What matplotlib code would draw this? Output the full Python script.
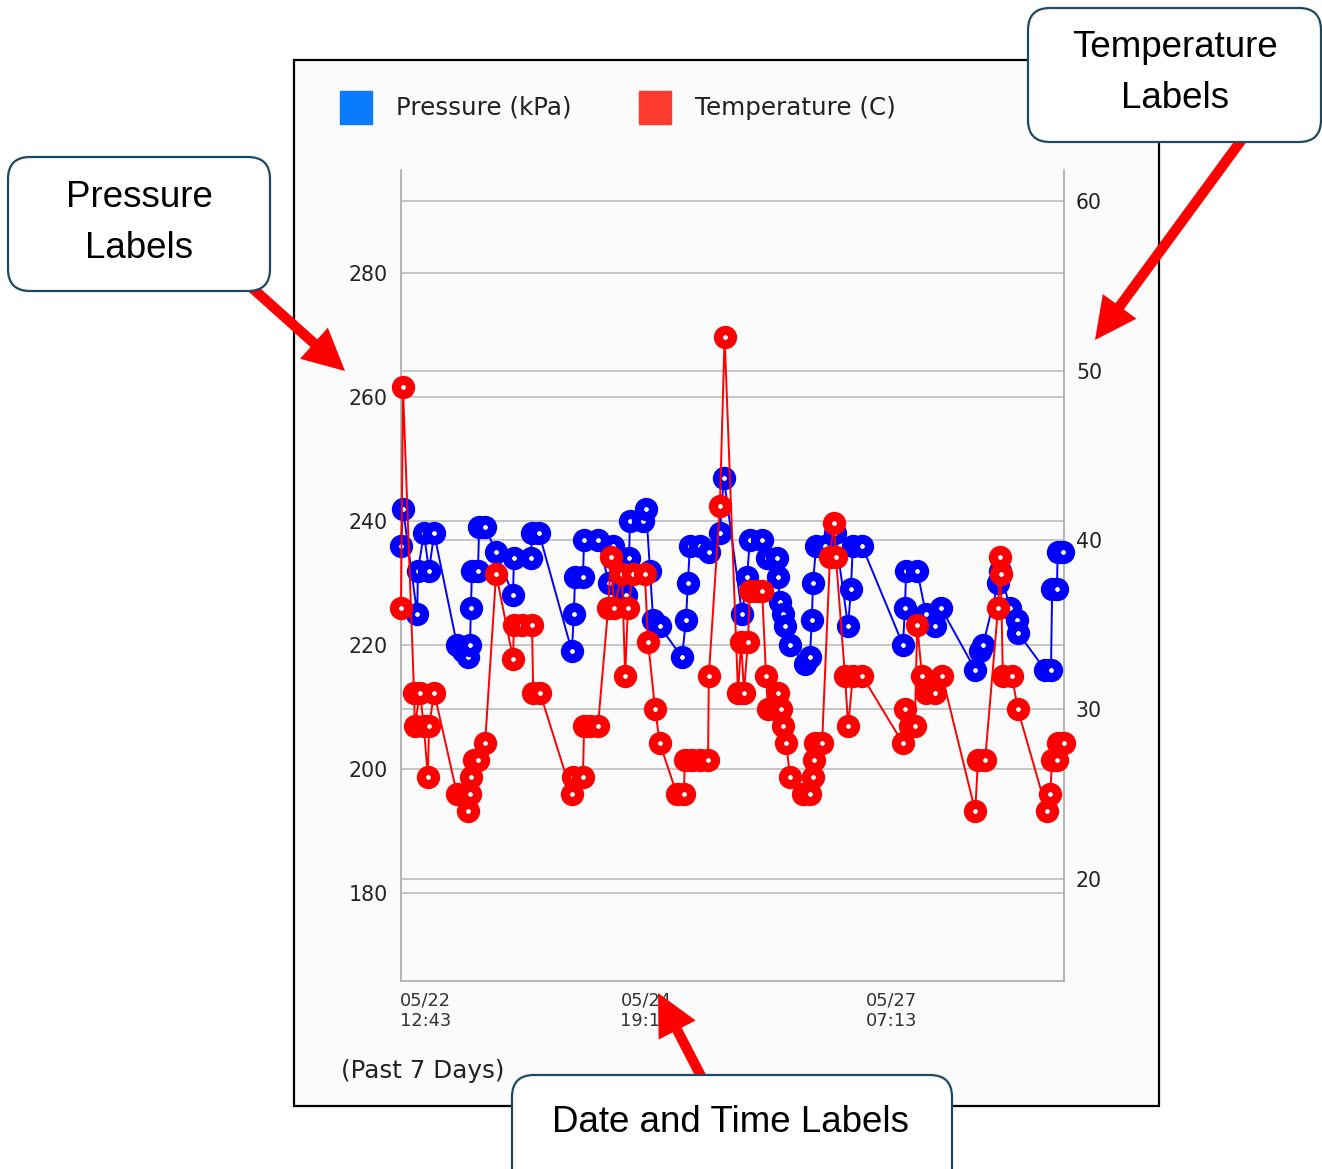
import matplotlib
matplotlib.use('Agg')
import matplotlib.pyplot as plt
from matplotlib.patches import Rectangle, FancyBboxPatch, FancyArrowPatch, ArrowStyle

W, H = 1322, 1169

# hours since start of the 7 day window
p_hours = [0.0, 0.5, 4.1, 4.3, 5.8, 7.1, 8.4, 14.2, 15.7, 17.0, 17.5, 17.7, 18.0, 19.5, 19.8,
           21.3, 24.1, 28.4, 28.6, 32.9, 33.2, 35.0, 43.3, 43.8, 44.1, 46.1, 46.4, 49.9, 52.7,
           53.7, 56.0, 57.0, 57.8, 58.0, 61.3, 62.1, 63.1, 63.9, 65.6, 71.2, 72.2, 72.7, 73.2,
           75.8, 78.0, 80.8, 81.8, 86.4, 87.7, 88.4, 91.5, 92.8, 95.3, 95.5, 96.0, 96.8, 97.3,
           98.6, 102.4, 103.6, 104.1, 104.4, 105.2, 107.4, 110.0, 113.3, 114.0, 114.5, 116.8,
           127.2, 127.7, 128.0, 130.8, 133.0, 135.3, 136.8, 145.5, 146.7, 147.5, 151.3, 151.8,
           154.3, 156.1, 156.3, 163.2, 164.7, 165.0, 166.2, 166.4, 167.7]
pressure = [236, 242, 225, 232, 238, 232, 238, 220, 219, 218, 220, 226, 232, 232, 239,
            239, 235, 228, 234, 234, 238, 238, 219, 225, 231, 231, 237, 237, 230,
            236, 229, 228, 234, 240, 240, 242, 232, 224, 223, 218, 224, 230, 236,
            236, 235, 238, 247, 225, 231, 237, 237, 234, 234, 231, 227, 225, 223,
            220, 217, 218, 224, 230, 236, 236, 238, 223, 229, 236, 236,
            220, 226, 232, 232, 225, 223, 226, 216, 219, 220, 230, 232,
            226, 224, 222, 216, 216, 229, 229, 235, 235]

t_hours = [0.0, 0.5, 3.3, 3.5, 4.8, 5.8, 6.8, 7.1, 8.4, 14.2, 16.2, 17.0, 17.5, 17.7, 18.5,
           19.5, 21.3, 24.1, 28.4, 28.6, 30.7, 33.2, 33.5, 35.2, 43.3, 43.6, 46.1, 46.4, 47.9,
           49.9, 52.5, 53.2, 54.0, 56.0, 56.8, 57.5, 58.8, 61.8, 62.6, 64.4, 65.6, 69.9, 71.7,
           71.9, 73.7, 75.8, 77.8, 78.0, 80.8, 82.0, 85.4, 86.2, 86.9, 87.9, 88.4, 90.2, 91.5,
           92.5, 93.0, 94.8, 95.5, 96.3, 96.8, 97.6, 98.6, 101.9, 103.6, 104.4, 104.7, 104.9,
           106.7, 108.7, 109.7, 110.2, 112.5, 113.3, 114.5, 116.8, 127.2, 127.7, 129.0, 130.2,
           130.8, 132.0, 133.0, 135.3, 137.1, 145.5, 146.2, 148.0, 151.3, 151.8, 152.0, 152.5,
           154.8, 156.3, 163.7, 164.5, 165.0, 166.2, 166.4, 168.0]
temperature = [36, 49, 31, 29, 31, 29, 26, 29, 31, 25, 25, 24, 25, 26, 27,
               27, 28, 38, 33, 35, 35, 35, 31, 31, 25, 26, 26, 29, 29,
               29, 36, 39, 36, 38, 32, 36, 38, 38, 34, 30, 28, 25, 25,
               27, 27, 27, 27, 32, 42, 52, 31, 34, 31, 34, 37, 37, 37,
               32, 30, 30, 31, 30, 29, 28, 26, 25, 25, 26, 27, 28,
               28, 39, 41, 39, 32, 29, 32, 32, 28, 30, 29, 29,
               35, 32, 31, 31, 32, 24, 27, 27, 36, 39, 38, 32,
               32, 30, 24, 25, 27, 27, 28, 28]

xtick_hours = [6.3, 62.1, 124.4]
xtick_labels = ['05/22\n12:43', '05/24\n19:13', '05/27\n07:13']
pressure_ticks = [180, 200, 220, 240, 260, 280]
temp_ticks = [20, 30, 40, 50, 60]

fig = plt.figure(figsize=(W / 100, H / 100), dpi=100)
fig.patch.set_facecolor('white')
tr = fig.dpi_scale_trans


def px(x, y):
    # picture pixels (top-left origin) -> inches
    return (x / 100, (H - y) / 100)


# white app panel
fig.add_artist(Rectangle(px(294, 1106), 8.65, 10.46, transform=tr, facecolor='#fbfbfb',
                         edgecolor='black', lw=1.6, zorder=-5))

ax = fig.add_axes([401 / W, 1 - 981 / H, 663 / W, 811 / H])
ax.set_facecolor('none')
ax2 = ax.twinx()

grid_kw = dict(color='#b8b8b8', lw=1.1)
ax.set_yticks(pressure_ticks)
ax.yaxis.grid(True, **grid_kw)
ax2.set_yticks(temp_ticks)
ax2.yaxis.grid(True, **grid_kw)

mk = dict(marker='o', ms=10.2, mew=6.6, mfc='white', lw=1.4, clip_on=False)
ax2.plot(p_hours, pressure, color='#0000ff', transform=ax.transData, zorder=3, **mk)
ax2.plot(t_hours, temperature, color='#ff0000', zorder=4, **mk)

ax.set_xlim(0, 168)
ax.set_ylim(165.8, 296.6)
ax2.set_ylim(13.98, 61.83)

for s in ['top', 'right']:
    ax.spines[s].set_visible(False)
for s in ['top', 'left', 'bottom']:
    ax2.spines[s].set_visible(False)
for sp in [ax.spines['left'], ax.spines['bottom'], ax2.spines['right']]:
    sp.set_color('#a8a8a8')
    sp.set_linewidth(1.2)

ax.tick_params(axis='y', length=0, pad=9.4, labelsize=14.8, labelcolor='#222222')
ax2.tick_params(axis='y', length=0, pad=8.6, labelsize=14.8, labelcolor='#222222')
ax.set_xticks(xtick_hours, xtick_labels)
ax.tick_params(axis='x', length=0, pad=7.6, labelsize=12.8, labelcolor='#333333')

# legend squares and texts
fig.add_artist(Rectangle(px(340, 124), 0.32, 0.33, transform=tr, color='#0a7aff'))
fig.add_artist(Rectangle(px(639, 124), 0.32, 0.33, transform=tr, color='#ff3b30'))
fig.text(396 / W, 1 - 108 / H, 'Pressure (kPa)', fontsize=17.7, color='#222222', va='center')
fig.text(695 / W, 1 - 108 / H, 'Temperature (C)', fontsize=17.7, color='#222222', va='center')
fig.text(341 / W, 1 - 1071 / H, '(Past 7 Days)', fontsize=17.7, color='#222222', va='center')

# callout arrows
style = ArrowStyle.Simple(head_length=30, head_width=30, tail_width=7.4)
for tail, tip in [((250, 286), (345, 371)), ((1243, 138), (1095, 340)), ((704, 1082), (658, 993))]:
    fig.add_artist(FancyArrowPatch(px(*tail), px(*tip), arrowstyle=style, mutation_scale=1,
                                   transform=tr, color='#ff0000', lw=0, shrinkA=0, shrinkB=0,
                                   zorder=11))

# callout boxes
boxes = [((8, 291), 2.62, 1.34, 'Pressure\nLabels', (139, 223)),
         ((1028, 142), 2.93, 1.34, 'Temperature\nLabels', (1175, 73)),
         ((512, 1200), 4.40, 1.25, 'Date and Time Labels', (731, 1122))]
for corner, w, h, label, centre in boxes:
    fig.add_artist(FancyBboxPatch(px(*corner), w, h, boxstyle='round,pad=0,rounding_size=0.22',
                                  transform=tr, facecolor='white', edgecolor='#1d4a60',
                                  lw=1.6, zorder=12))
    fig.text(centre[0] / W, 1 - centre[1] / H, label, fontsize=26.5, family='Liberation Sans',
             ha='center', va='center', linespacing=1.6, zorder=13)

fig.savefig('out.png', dpi=100)
